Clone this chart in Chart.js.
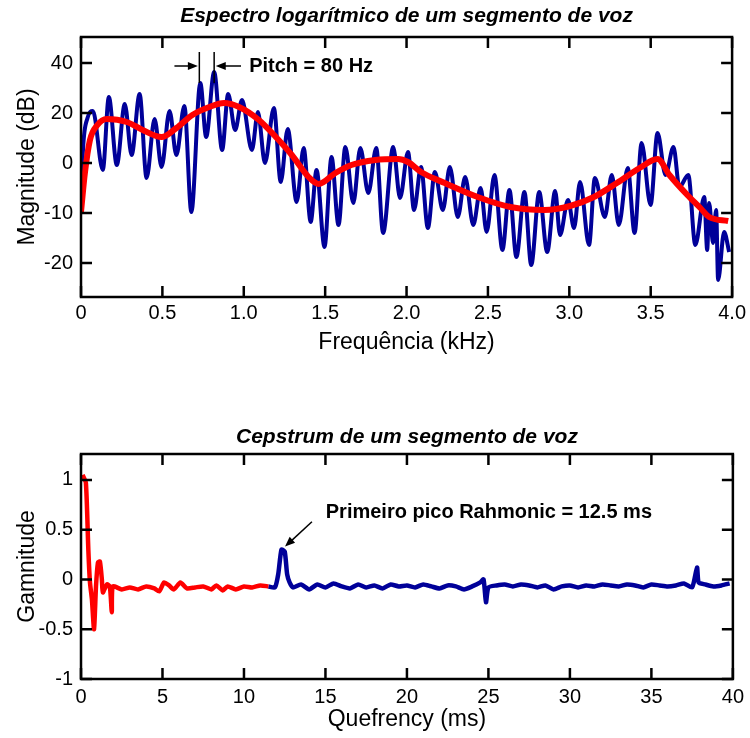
<!DOCTYPE html>
<html>
<head>
<meta charset="utf-8">
<script src="https://cdn.jsdelivr.net/npm/chart.js@4.4.0/dist/chart.umd.min.js"></script>
<style>
  html, body { margin: 0; padding: 0; background: #fff; }
  canvas { position: absolute; left: 0; }
  #spec { top: 0; }
  #ceps { top: 368px; }
</style>
</head>
<body>
<canvas id="spec" width="750" height="368"></canvas>
<canvas id="ceps" width="750" height="370"></canvas>
<script>
// espectro (kHz, dB na escala do desenho)
const specFreq = [0, 0.012, 0.04, 0.073, 0.134, 0.171, 0.22, 0.269, 0.311, 0.36, 0.403, 0.452, 0.495, 0.544, 0.586, 0.635, 0.678,
  0.733, 0.769, 0.818, 0.867, 0.904, 0.947, 0.989, 1.05, 1.087, 1.13, 1.185, 1.227, 1.27, 1.325, 1.368, 1.411, 1.447, 1.496,
  1.539, 1.582, 1.624, 1.673, 1.716, 1.765, 1.814, 1.856, 1.918, 1.96, 2.009, 2.046, 2.089, 2.131, 2.174, 2.223, 2.266, 2.315,
  2.36, 2.41, 2.455, 2.492, 2.54, 2.589, 2.632, 2.675, 2.724, 2.766, 2.815, 2.864, 2.913, 2.943, 2.992, 3.029, 3.066, 3.121,
  3.157, 3.218, 3.261, 3.304, 3.359, 3.401, 3.444, 3.499, 3.542, 3.591, 3.64, 3.676, 3.731, 3.774, 3.829, 3.847, 3.859, 3.883,
  3.902, 3.914, 3.951, 3.982];
const specMag = [-18.8, 5, 18, 20.8, -2.8, 26.4, -0.8, 23.6, 3.2, 27.6, -6, 17.6, -1.6, 20.8, 3.2, 22.8, -19.6,
  32, 10.4, 36.4, 5.2, 27.6, 13.2, 25.2, 5.2, 20.4, 0, 22, -7.6, 13.6, -15.6, 6, -23.6, -2.8, -33.6,
  2.4, -24.8, 6.4, -16, 6, -12, 6, -28, 6.4, -14, 4.4, -18.8, -1.6, -26, -3.6, -18.8, -1.6, -21.6,
  -5.6, -24.8, -10, -27.6, -4.8, -34.8, -10.8, -37.6, -11.6, -40.8, -11.6, -35.6, -11.2, -28.8, -14.8, -26, -7.6, -32.8,
  -6, -21.6, -4.8, -24.8, -2, -28, 8, -16.8, 12, -4.8, 6.4, -9.6, -4.8, -32.8, -13.6, -34.8, -16, -32,
  -18.8, -46.8, -27.6, -35.6];

// envoltória
const envFreq = [0, 0.024, 0.055, 0.098, 0.159, 0.281, 0.379, 0.495, 0.586, 0.684, 0.788, 0.879, 0.971, 1.093, 1.197, 1.295,
  1.398, 1.46, 1.563, 1.661, 1.808, 1.948, 2.009, 2.089, 2.235, 2.437, 2.638, 2.846, 3.005, 3.151, 3.292, 3.432, 3.542,
  3.615, 3.725, 3.805, 3.859, 3.976];
const envMag = [-19.6, -4, 9.2, 15, 17.6, 16.4, 13.2, 10.4, 14, 19.2, 22.4, 24, 22.4, 17.2, 10.4, 3.2,
  -5.6, -8.4, -4, -0.8, 1.2, 1.6, 0.4, -3.6, -8, -13.6, -17.6, -18.8, -17.2, -13.6, -8, -2, 1.6,
  -4.8, -12.8, -18, -21.6, -23.2];

const freqTicks = [0, 0.5, 1, 1.5, 2, 2.5, 3, 3.5, 4];
const freqTickLabels = ['0', '0.5', '1.0', '1.5', '2.0', '2.5', '3.0', '3.5', '4.0'];
const magTicks = [40, 20, 0, -20, -40];
const magTickLabels = ['40', '20', '0', '-10', '-20'];

// cepstrum (ms)
const cepRedQ = [0.1, 0.3, 0.45, 0.55, 0.67, 0.8, 0.92, 1.04, 1.16, 1.28, 1.34, 1.59, 1.77, 1.89, 1.95, 2.5, 3, 3.5, 4, 4.5,
  4.8, 5.1, 5.4, 5.7, 6.1, 6.5, 7, 7.5, 8, 8.3, 8.7, 9, 9.5, 10, 10.5, 11, 11.5];
const cepRedG = [1.05, 0.97, 0.3, -0.03, -0.2, -0.5, -0.07, 0.17, 0.18, 0, -0.13, -0.05, -0.07, -0.33, -0.07, -0.1, -0.08, -0.1, -0.07, -0.09,
  -0.12, -0.03, -0.06, -0.1, -0.03, -0.09, -0.08, -0.07, -0.1, -0.06, -0.11, -0.07, -0.1, -0.07, -0.08, -0.06, -0.07];
const cepBlueQ = [11.5, 11.9, 12.1, 12.3, 12.5, 12.65, 12.8, 13, 13.5, 14, 14.5, 15, 15.5, 16, 16.5, 17, 17.5, 18, 18.5, 19,
  19.5, 20, 20.5, 21, 21.5, 22, 22.5, 23, 23.5, 24, 24.5, 24.7, 24.85, 25, 25.5, 26, 26.5, 27, 27.5, 28, 28.5, 29, 29.5, 30,
  30.5, 31, 31.5, 32, 32.5, 33, 33.5, 34, 34.5, 35, 35.5, 36, 36.5, 37, 37.5, 37.8, 37.9, 38.3, 38.8, 39.3, 39.8];
const cepBlueG = [-0.07, -0.08, 0.05, 0.3, 0.28, 0.05, -0.03, -0.08, -0.05, -0.1, -0.05, -0.08, -0.04, -0.07, -0.09, -0.05, -0.08, -0.06, -0.09, -0.05,
  -0.07, -0.06, -0.08, -0.05, -0.07, -0.09, -0.06, -0.07, -0.1, -0.07, -0.03, 0, -0.23, -0.08, -0.06, -0.05, -0.07, -0.05, -0.06, -0.08, -0.06, -0.1, -0.07, -0.06,
  -0.08, -0.06, -0.07, -0.05, -0.06, -0.07, -0.05, -0.06, -0.08, -0.05, -0.06, -0.07, -0.06, -0.04, -0.08, 0.12, -0.03, -0.05, -0.07, -0.06, -0.04];

const quefTicks = [0, 5, 10, 15, 20, 25, 30, 35, 40];
const gamTicks = [1, 0.5, 0, -0.5, -1];

const FONT = "'Liberation Sans', Arial, sans-serif";
const AZUL = '#000099';
const VERMELHO = '#ff0000';

const pts = (xs, ys) => xs.map((v, i) => ({ x: v, y: ys[i] }));

function seta(ctx, x1, y1, x2, y2) {
  const ang = Math.atan2(y2 - y1, x2 - x1);
  ctx.beginPath();
  ctx.moveTo(x1, y1);
  ctx.lineTo(x2 - 7 * Math.cos(ang), y2 - 7 * Math.sin(ang));
  ctx.stroke();
  ctx.beginPath();
  ctx.moveTo(x2, y2);
  ctx.lineTo(x2 - 10 * Math.cos(ang) + 4 * Math.sin(ang), y2 - 10 * Math.sin(ang) - 4 * Math.cos(ang));
  ctx.lineTo(x2 - 10 * Math.cos(ang) - 4 * Math.sin(ang), y2 - 10 * Math.sin(ang) + 4 * Math.cos(ang));
  ctx.closePath();
  ctx.fill();
}

// moldura com marcas para dentro, estilo matlab
const moldura = {
  id: 'moldura',
  afterDatasetsDraw(chart, args, opts) {
    const { ctx, chartArea: a, scales: { x, y } } = chart;
    ctx.save();
    ctx.strokeStyle = '#000';
    ctx.lineWidth = 2.5;
    ctx.beginPath();
    opts.xTicks.forEach(v => {
      const px = x.getPixelForValue(v);
      ctx.moveTo(px, a.bottom); ctx.lineTo(px, a.bottom - 11);
      ctx.moveTo(px, a.top); ctx.lineTo(px, a.top + 11);
    });
    opts.yTicks.forEach(v => {
      const py = y.getPixelForValue(v);
      ctx.moveTo(a.left, py); ctx.lineTo(a.left + 11, py);
      ctx.moveTo(a.right, py); ctx.lineTo(a.right - 11, py);
    });
    ctx.stroke();
    ctx.strokeRect(a.left, a.top, a.right - a.left, a.bottom - a.top);
    // titulo centrado na area do grafico
    ctx.fillStyle = '#000';
    ctx.font = 'italic bold 21px ' + FONT;
    ctx.textAlign = 'center';
    ctx.textBaseline = 'middle';
    ctx.fillText(opts.titulo, (a.left + a.right) / 2, opts.tituloY);
    ctx.restore();
  }
};

const notasSpec = {
  id: 'notasSpec',
  afterDatasetsDraw(chart) {
    const { ctx, scales: { x, y } } = chart;
    ctx.save();
    ctx.strokeStyle = '#000';
    ctx.fillStyle = '#000';
    ctx.lineWidth = 1.5;
    ctx.beginPath();
    [0.727, 0.818].forEach(f => {
      ctx.moveTo(x.getPixelForValue(f), y.getPixelForValue(44.4));
      ctx.lineTo(x.getPixelForValue(f), y.getPixelForValue(32));
    });
    ctx.stroke();
    const ya = y.getPixelForValue(38.8);
    seta(ctx, x.getPixelForValue(0.574), ya, x.getPixelForValue(0.718), ya);
    seta(ctx, x.getPixelForValue(0.983), ya, x.getPixelForValue(0.828), ya);
    ctx.font = 'bold 20px ' + FONT;
    ctx.textAlign = 'left';
    ctx.textBaseline = 'middle';
    ctx.fillText('Pitch = 80 Hz', x.getPixelForValue(1.033), ya);
    ctx.restore();
  }
};

const notasCeps = {
  id: 'notasCeps',
  afterDatasetsDraw(chart) {
    const { ctx, scales: { x, y } } = chart;
    ctx.save();
    ctx.strokeStyle = '#000';
    ctx.fillStyle = '#000';
    ctx.lineWidth = 1.5;
    seta(ctx, x.getPixelForValue(14.17), y.getPixelForValue(0.58), x.getPixelForValue(12.52), y.getPixelForValue(0.33));
    ctx.font = 'bold 20px ' + FONT;
    ctx.textAlign = 'left';
    ctx.textBaseline = 'middle';
    ctx.fillText('Primeiro pico Rahmonic = 12.5 ms', x.getPixelForValue(15.02), y.getPixelForValue(0.67));
    ctx.restore();
  }
};

const tickFont = { family: FONT, size: 20 };
const axisFont = { family: FONT, size: 23 };

function eixoX(min, max, ticks, labels, titulo, altura, padTicks, padTitulo) {
  return {
    type: 'linear', min: min, max: max,
    afterBuildTicks: s => { s.ticks = ticks.map(v => ({ value: v })); },
    afterFit: s => { s.height = altura; },
    grid: { display: false, drawTicks: false },
    border: { display: false },
    ticks: { color: '#000', font: tickFont, padding: padTicks, maxRotation: 0, autoSkip: false,
      callback: v => labels[ticks.indexOf(v)] },
    title: { display: true, text: titulo, color: '#000', font: axisFont, padding: { top: 0, bottom: padTitulo } }
  };
}

function eixoY(min, max, ticks, labels, titulo) {
  return {
    min: min, max: max,
    afterBuildTicks: s => { s.ticks = ticks.map(v => ({ value: v })); },
    afterFit: s => { s.width = 81; },
    grid: { display: false, drawTicks: false },
    border: { display: false },
    ticks: { color: '#000', font: tickFont, padding: 8, autoSkip: false,
      callback: v => labels[ticks.indexOf(v)] },
    title: { display: true, text: titulo, color: '#000', font: axisFont, padding: { top: 14, bottom: 0 } }
  };
}

new Chart(document.getElementById('spec'), {
  type: 'line',
  data: {
    datasets: [
      { data: pts(specFreq, specMag), borderColor: AZUL, borderWidth: 4, cubicInterpolationMode: 'monotone', order: 2 },
      { data: pts(envFreq, envMag), borderColor: VERMELHO, borderWidth: 6, cubicInterpolationMode: 'monotone', order: 1 }
    ]
  },
  options: {
    responsive: false,
    animation: false,
    events: [],
    parsing: false,
    elements: { point: { radius: 0 } },
    layout: { padding: { top: 37, right: 15, left: 0, bottom: 0 } },
    scales: {
      x: eixoX(0, 4, freqTicks, freqTickLabels, 'Frequência (kHz)', 71, 4, 12),
      y: eixoY(-53.6, 50.4, magTicks, magTickLabels, 'Magnitude (dB)')
    },
    plugins: {
      legend: { display: false },
      tooltip: { enabled: false },
      moldura: { xTicks: freqTicks, yTicks: magTicks, titulo: 'Espectro logarítmico de um segmento de voz', tituloY: 16 }
    }
  },
  plugins: [moldura, notasSpec]
});

new Chart(document.getElementById('ceps'), {
  type: 'line',
  data: {
    datasets: [
      { data: pts(cepRedQ, cepRedG), borderColor: VERMELHO, borderWidth: 4.5, tension: 0.2 },
      { data: pts(cepBlueQ, cepBlueG), borderColor: AZUL, borderWidth: 4.5, tension: 0.2 }
    ]
  },
  options: {
    responsive: false,
    animation: false,
    events: [],
    parsing: false,
    elements: { point: { radius: 0 } },
    layout: { padding: { top: 86, right: 15, left: 0, bottom: 0 } },
    scales: {
      x: eixoX(0, 40, quefTicks, quefTicks.map(String), 'Quefrency (ms)', 59, 6, 5),
      y: eixoY(-1, 1.26, gamTicks, gamTicks.map(String), 'Gamnitude')
    },
    plugins: {
      legend: { display: false },
      tooltip: { enabled: false },
      moldura: { xTicks: quefTicks, yTicks: gamTicks, titulo: 'Cepstrum de um segmento de voz', tituloY: 69 }
    }
  },
  plugins: [moldura, notasCeps]
});
</script>
</body>
</html>
